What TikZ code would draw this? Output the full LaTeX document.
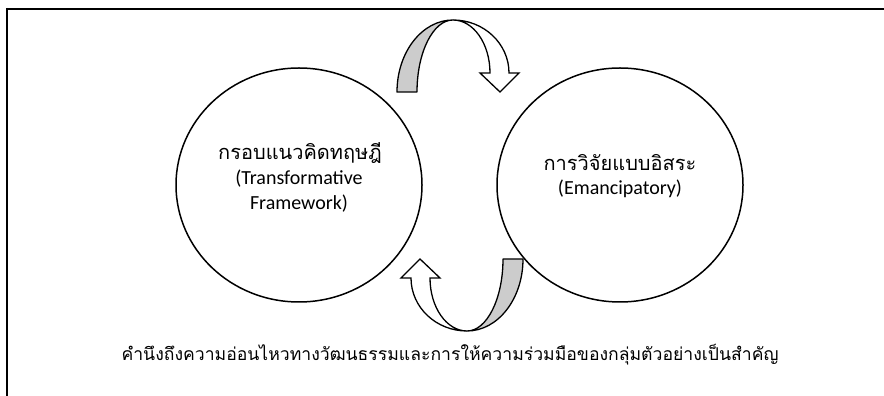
\documentclass[tikz,border=0pt]{standalone}
\usepackage{fontspec}
\usetikzlibrary{shapes.geometric}
\newfontfamily\thaifont[Script=Thai]{Loma}
\newfontfamily\engfont{Carlito}
\definecolor{bandgray}{RGB}{204,204,204}

\begin{document}
\begin{tikzpicture}[x=1pt, y=1pt,
        ring/.style={ellipse, draw, line width=1.5pt, minimum width=246pt, minimum height=234pt},
        band/.style={draw, line width=1.3pt, line join=round, fill=bandgray},
        face/.style={draw, line width=1.3pt, line join=miter, fill=white},
        title/.style={font=\thaifont\fontsize{20}{24}\selectfont},
        sub/.style={font=\engfont\fontsize{20}{24}\selectfont}]
        \useasboundingbox (0, 0) rectangle (884, 396);

        % frame
        \draw[line width=2.4pt] (6, 387) -- (884, 387);
        \draw[line width=2.4pt] (7, 388) -- (7, 0);

        % the two circles
        \node[ring] (theory) at (299, 211) {};
        \node[ring] (eman) at (620, 211) {};

        \node[title] (theoryth) at (300, 243) {กรอบแนวคิดทฤษฎี};
        \node[sub] (theoryen) at (299, 217) {(Transformative};
        \node[sub] (theoryen2) at (299, 192) {Framework)};

        \node[title] (emanth) at (620, 233) {การวิจัยแบบอิสระ};
        \node[sub] (emanen) at (620, 207) {(Emancipatory)};

        % upper u-turn arrow
        \filldraw[band] (397, 304) arc[start angle=180, end angle=90, x radius=56, y radius=72]
            arc[start angle=90, end angle=180, x radius=36, y radius=72] -- cycle;
        \filldraw[face] (453, 376) arc[start angle=90, end angle=0, x radius=56, y radius=53]
            -- (519, 323) -- (500, 304) -- (480, 323) -- (490, 323)
            arc[start angle=0, end angle=90, x radius=37, y radius=53] -- cycle;

        % lower u-turn arrow
        \filldraw[band] (523, 137) arc[start angle=0, end angle=-90, x radius=56, y radius=72]
            arc[start angle=-90, end angle=0, x radius=36, y radius=72] -- cycle;
        \filldraw[face] (467, 65) arc[start angle=-90, end angle=-180, x radius=56, y radius=53]
            -- (401, 118) -- (420, 137) -- (440, 118) -- (430, 118)
            arc[start angle=180, end angle=270, x radius=37, y radius=53] -- cycle;

        \node[font=\thaifont\fontsize{17.6}{21}\selectfont] (note) at (450, 41)
            {คำนึงถึงความอ่อนไหวทางวัฒนธรรมและการให้ความร่วมมือของกลุ่มตัวอย่างเป็นสำคัญ};

    \end{tikzpicture}
\end{document}
